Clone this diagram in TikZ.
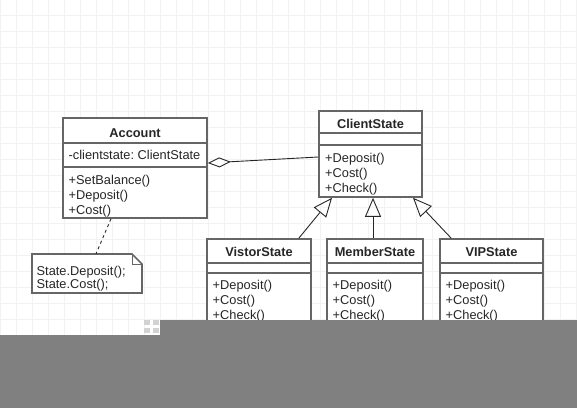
\documentclass[tikz,border=0pt]{standalone}
\usepackage{fontspec}
\setmainfont{Liberation Sans}
\usetikzlibrary{arrows.meta,positioning}
\definecolor{boxgray}{RGB}{102,102,102}
\definecolor{bandgray}{RGB}{128,128,128}
\definecolor{gridgray}{RGB}{242,242,242}
\frenchspacing

\tikzset{
	umlbox/.style={draw=boxgray, line width=1.6pt, fill=white, inner sep=0pt},
	divider/.style={draw=boxgray, line width=1.6pt},
	member/.style={anchor=base west, inner sep=0pt, text=black!85},
	title/.style={anchor=base, inner sep=0pt, font=\fontsize{12.8}{15}\selectfont\bfseries, text=black!85},
	inherit/.style={-{Triangle[open,length=19pt,width=16pt]}, line width=0.9pt, black!85},
	aggregate/.style={{Diamond[open,length=23pt,width=10pt]}-, line width=0.9pt, black!85},
}

\begin{document}
\begin{tikzpicture}[x=1pt, y=-1pt, font=\fontsize{12.8}{15}\selectfont]
\useasboundingbox (0,0) rectangle (577,408);

	% grid
	\foreach \gx in {0,16,...,576} \draw[gridgray, line width=0.8pt] (\gx,0) -- (\gx,408);
	\foreach \gy in {15,31,...,407} \draw[gridgray, line width=0.8pt] (0,\gy) -- (577,\gy);

	\node (Acc)[umlbox, minimum width=144pt, minimum height=100pt] at (135,168) {};
	\draw[divider] (63,143) -- (207,143);
	\draw[divider] (63,167) -- (207,167);
	\node (AccT)[title] at (135,137) {Account};
	\node (AccA)[member] at (68.5,159) {-clientstate: ClientState};
	\node (AccM1)[member] at (68.5,184) {+SetBalance()};
	\node (AccM2)[member] at (68.5,199) {+Deposit()};
	\node (AccM3)[member] at (68.5,214) {+Cost()};

	\node (CS)[umlbox, minimum width=103pt, minimum height=86pt] at (370.5,154) {};
	\draw[divider] (319,133) -- (422,133);
	\draw[divider] (319,145) -- (422,145);
	\node (CST)[title] at (370.5,128.5) {ClientState};
	\node (CSM1)[member] at (325,162) {+Deposit()};
	\node (CSM2)[member] at (325,177) {+Cost()};
	\node (CSM3)[member] at (325,192) {+Check()};

	\node (VS)[umlbox, minimum width=104pt, minimum height=106pt] at (259,292) {};
	\draw[divider] (207,263) -- (311,263);
	\draw[divider] (207,273) -- (311,273);
	\node (VST)[title] at (259,256) {VistorState};
	\node (VSM1)[member] at (212.5,289) {+Deposit()};
	\node (VSM2)[member] at (212.5,304) {+Cost()};
	\node (VSM3)[member] at (212.5,319) {+Check()};

	\node (MS)[umlbox, minimum width=96pt, minimum height=106pt] at (375,292) {};
	\draw[divider] (327,263) -- (423,263);
	\draw[divider] (327,273) -- (423,273);
	\node (MST)[title] at (375,256) {MemberState};
	\node (MSM1)[member] at (332.5,289) {+Deposit()};
	\node (MSM2)[member] at (332.5,304) {+Cost()};
	\node (MSM3)[member] at (332.5,319) {+Check()};

	\node (VIP)[umlbox, minimum width=103pt, minimum height=106pt] at (491.5,292) {};
	\draw[divider] (440,263) -- (543,263);
	\draw[divider] (440,273) -- (543,273);
	\node (VIPT)[title] at (491.5,256) {VIPState};
	\node (VIPM1)[member] at (445.5,289) {+Deposit()};
	\node (VIPM2)[member] at (445.5,304) {+Cost()};
	\node (VIPM3)[member] at (445.5,319) {+Check()};

	% note
	\node (Note)[minimum width=110pt, minimum height=39pt, inner sep=0pt] at (87,273.5) {};
	\draw[divider, fill=white] (32,254) -- (132,254) -- (142,264) -- (142,293) -- (32,293) -- cycle;
	\draw[draw=boxgray, line width=0.9pt] (132,254) -- (132,264) -- (142,264);
	\node (N1)[member] at (36.5,275) {State.Deposit();};
	\node (N2)[member] at (36.5,288) {State.Cost();};

	\draw[aggregate] ([yshift=5pt]Acc.east) -- ([yshift=-3pt]CS.west);
	\draw[inherit] ([xshift=-13pt]VS.north east) -- ([xshift=-38.5pt]CS.south);
	\draw[inherit] ([xshift=-2pt]MS.north) -- ([xshift=2.5pt]CS.south);
	\draw[inherit] ([xshift=12pt]VIP.north west) -- ([xshift=42.5pt]CS.south);
	\draw[black!85, line width=0.9pt, dash pattern=on 3pt off 3pt] ([xshift=-24pt]Acc.south) -- ([xshift=9pt]Note.north);

	% cut-off band
	\fill[bandgray] (160,320) rectangle (577,408);
	\fill[bandgray] (0,335) rectangle (577,408);
	\foreach \cx in {144,153} \foreach \cy in {320,328}
		\fill[gray!35] (\cx,\cy) rectangle ++(6,5);

\end{tikzpicture}
\end{document}
